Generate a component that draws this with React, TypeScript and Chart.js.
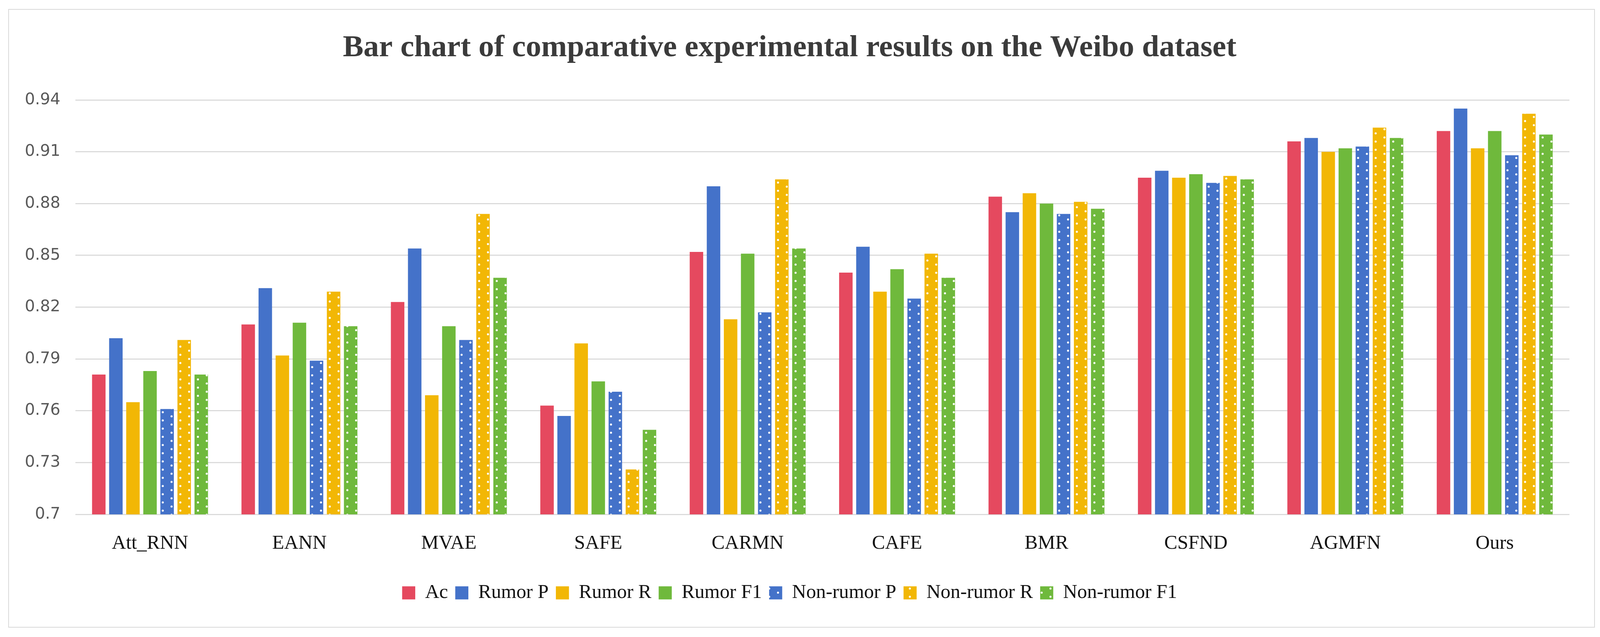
import React, { useEffect, useRef, useState } from 'react';
import { Chart, registerables } from 'chart.js';

Chart.register(...registerables);

// Layout numbers below are in the reference frame and get scaled to the real viewport.
const REF_W = 4397;
const REF_H = 1631;

const categories = ['Att_RNN', 'EANN', 'MVAE', 'SAFE', 'CARMN', 'CAFE', 'BMR', 'CSFND', 'AGMFN', 'Ours'];
const seriesNames = ['Ac', 'Rumor P', 'Rumor R', 'Rumor F1', 'Non-rumor P', 'Non-rumor R', 'Non-rumor F1'];

const ac = [0.781, 0.810, 0.823, 0.763, 0.852, 0.840, 0.884, 0.895, 0.916, 0.922];
const rumorP = [0.802, 0.831, 0.854, 0.757, 0.890, 0.855, 0.875, 0.899, 0.918, 0.935];
const rumorR = [0.765, 0.792, 0.769, 0.799, 0.813, 0.829, 0.886, 0.895, 0.910, 0.912];
const rumorF1 = [0.783, 0.811, 0.809, 0.777, 0.851, 0.842, 0.880, 0.897, 0.912, 0.922];
const nonRumorP = [0.761, 0.789, 0.801, 0.771, 0.817, 0.825, 0.874, 0.892, 0.913, 0.908];
const nonRumorR = [0.801, 0.829, 0.874, 0.726, 0.894, 0.851, 0.881, 0.896, 0.924, 0.932];
const nonRumorF1 = [0.781, 0.809, 0.837, 0.749, 0.854, 0.837, 0.877, 0.894, 0.918, 0.920];

const yMin = 0.7;
const yMax = 0.94;
const yStep = 0.03;

const titleText = 'Bar chart of comparative experimental results on the Weibo dataset';

const RED = '#e5495f';
const BLUE = '#4472c9';
const YELLOW = '#f2b705';
const GREEN = '#6fb93c';

const SERIF = '"Times New Roman", "Liberation Serif", serif';
const SANS = '"DejaVu Sans", sans-serif';

function dotPattern(color: string, k: number): CanvasPattern | string {
  const tw = Math.max(8, Math.round(48 * k));
  const th = Math.max(4, Math.round(23 * k));
  const c = document.createElement('canvas');
  c.width = tw;
  c.height = th;
  const g = c.getContext('2d');
  if (!g) return color;
  g.fillStyle = color;
  g.fillRect(0, 0, tw, th);
  g.fillStyle = '#ffffff';
  const r = 2.8 * k;
  g.beginPath();
  g.arc(tw * 0.26, th * 0.26, r, 0, Math.PI * 2);
  g.fill();
  g.beginPath();
  g.arc(tw * 0.76, th * 0.76, r, 0, Math.PI * 2);
  g.fill();
  const ctx = document.createElement('canvas').getContext('2d');
  const p = ctx ? ctx.createPattern(c, 'repeat') : null;
  return p || color;
}

export default function App() {
  const ref = useRef<HTMLCanvasElement>(null);
  const [size] = useState(() => ({
    w: window.innerWidth || document.documentElement.clientWidth || REF_W,
    h: window.innerHeight || document.documentElement.clientHeight || REF_H,
  }));
  const sx = size.w / REF_W;
  const sy = size.h / REF_H;
  const sf = Math.min(sx, sy);

  useEffect(() => {
    const canvas = ref.current;
    if (!canvas) return;
    const dpr = window.devicePixelRatio || 1;
    const values = [ac, rumorP, rumorR, rumorF1, nonRumorP, nonRumorR, nonRumorF1];
    const fills: (string | CanvasPattern)[] = [
      RED,
      BLUE,
      YELLOW,
      GREEN,
      dotPattern(BLUE, sf * dpr),
      dotPattern(YELLOW, sf * dpr),
      dotPattern(GREEN, sf * dpr),
    ];
    fills.forEach((f) => {
      if (typeof f !== 'string' && (f as any).setTransform && typeof DOMMatrix !== 'undefined') {
        (f as CanvasPattern).setTransform(new DOMMatrix([1 / dpr, 0, 0, 1 / dpr, 0, 0]));
      }
    });
    const datasets = seriesNames.map((name, i) => ({
      label: name,
      data: values[i],
      backgroundColor: fills[i] as any,
      borderWidth: 0,
      barPercentage: 0.79,
      categoryPercentage: 0.8,
    }));

    // font sizes
    const titleSize = 85 * sf;
    const tickSize = 44 * sf;
    const catSize = 54 * sf;
    const legendSize = 54 * sf;
    const boxSize = 36 * sf;
    const legendPad = 20 * sf;

    // y tick label width (for placing the plot's left edge)
    const mctx = document.createElement('canvas').getContext('2d');
    let labelW = 2.226 * tickSize;
    if (mctx) {
      mctx.font = `${tickSize}px ${SANS}`;
      labelW = Math.max(
        ...['0.94', '0.91', '0.88', '0.85', '0.82', '0.79', '0.76', '0.73', '0.7'].map((t) => mctx.measureText(t).width)
      );
    }
    const yTickPad = 41 * sx;
    const padLeft = Math.max(0, 207 * sx - labelW - 2 * yTickPad);

    const padTop = 24 * sy;
    const titleTop = 124 * sy - padTop - 0.6 * titleSize;
    const titleBottom = 256 * sy - padTop - titleTop - 1.2 * titleSize;

    const itemH = Math.max(legendSize, boxSize);
    const padBottom = REF_H * sy - 1518 * sy - 10 - itemH / 2;
    const legendTop = REF_H * sy - padBottom - (itemH + legendPad + 10);
    const xAxisH = legendTop - 1317 * sy;

    const chart = new Chart(canvas, {
      type: 'bar',
      data: { labels: categories, datasets },
      options: {
        animation: false,
        responsive: false,
        layout: { padding: { left: padLeft, right: 84 * sx, top: padTop, bottom: padBottom } },
        plugins: {
          title: {
            display: true,
            text: titleText,
            color: '#3b3b3b',
            font: { family: SERIF, size: titleSize, weight: 'bold', lineHeight: 1.2 },
            padding: { top: titleTop, bottom: titleBottom },
          },
          legend: {
            position: 'bottom',
            labels: {
              boxWidth: boxSize,
              boxHeight: boxSize,
              padding: legendPad,
              color: '#111111',
              font: { family: SERIF, size: legendSize },
            },
          },
          tooltip: { enabled: false },
        },
        scales: {
          x: {
            grid: { display: false, drawTicks: false },
            border: { display: false },
            ticks: {
              color: '#111111',
              font: { family: SERIF, size: catSize },
              padding: 45 * sy,
              maxRotation: 0,
              autoSkip: false,
            },
            afterFit: (s: any) => {
              s.height = xAxisH;
            },
          },
          y: {
            min: yMin,
            max: yMax,
            ticks: {
              stepSize: yStep,
              padding: yTickPad,
              color: '#595959',
              font: { family: SANS, size: tickSize },
              callback: (v: any) => String(parseFloat(Number(v).toFixed(2))),
            },
            grid: { color: '#d9d9d9', lineWidth: 3 * sf, drawTicks: false },
            border: { display: false },
          },
        },
      },
    });
    return () => chart.destroy();
  }, [sx, sy, sf]);

  return (
    <div
      style={{
        position: 'fixed',
        left: 0,
        top: 0,
        width: size.w,
        height: size.h,
        background: '#ffffff',
        overflow: 'hidden',
      }}
    >
      <canvas ref={ref} width={size.w} height={size.h} style={{ width: size.w, height: size.h, display: 'block' }} />
      <div
        style={{
          position: 'absolute',
          left: 23 * sx,
          top: 23 * sy,
          width: 4360 * sx,
          height: 1584 * sy,
          border: `${Math.max(1, 3 * sf)}px solid #d9d9d9`,
          boxSizing: 'border-box',
          pointerEvents: 'none',
        }}
      />
    </div>
  );
}
